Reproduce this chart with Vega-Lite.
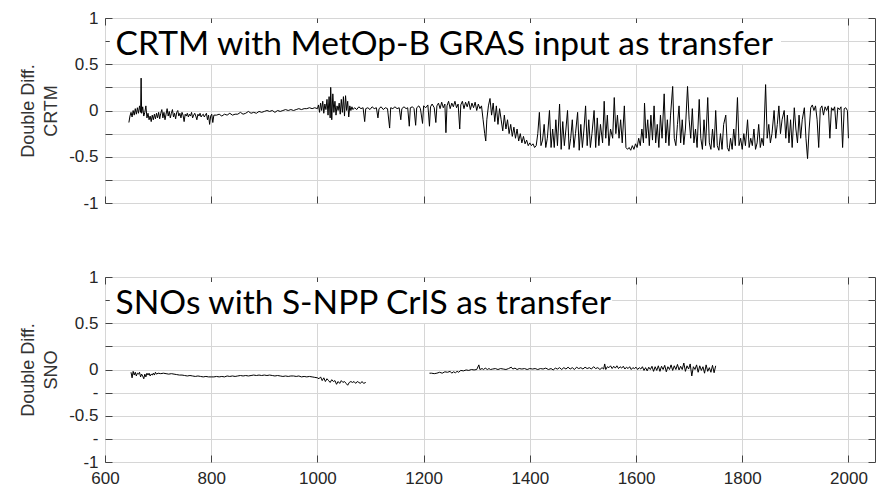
{
"$schema": "https://vega.github.io/schema/vega-lite/v6.json",
"background": "white",
"padding": {"left": 19, "top": 8, "right": 5, "bottom": 0},
"spacing": 74,
"bounds": "flush",
"datasets": {
"crtm": [
{"x":645,"y":-0.13},{"x":647,"y":-0.06},{"x":649,"y":-0.02},{"x":651,"y":-0.07},{"x":653,"y":0.0},{"x":655,"y":-0.05},{"x":657,"y":0.02},{"x":659,"y":-0.04},{"x":661,"y":0.03},{"x":663,"y":-0.03},{"x":665,"y":0.05},{"x":667,"y":-0.02},{"x":668,"y":0.35},{"x":669,"y":-0.03},{"x":671,"y":0.04},{"x":673,"y":-0.06},{"x":675,"y":-0.02},{"x":677,"y":0.05},{"x":679,"y":-0.08},{"x":681,"y":-0.03},{"x":683,"y":-0.1},{"x":685,"y":-0.06},{"x":687,"y":-0.12},{"x":689,"y":-0.05},{"x":691,"y":-0.1},{"x":693,"y":-0.04},{"x":695,"y":-0.09},{"x":697,"y":-0.03},{"x":699,"y":-0.08},
{"x":701,"y":-0.02},{"x":703,"y":-0.09},{"x":705,"y":-0.03},{"x":707,"y":0.01},{"x":709,"y":-0.08},{"x":711,"y":-0.02},{"x":713,"y":-0.1},{"x":715,"y":-0.04},{"x":717,"y":0.02},{"x":719,"y":-0.06},{"x":721,"y":-0.01},{"x":723,"y":-0.08},{"x":725,"y":-0.03},{"x":727,"y":0.01},{"x":729,"y":-0.07},{"x":731,"y":-0.03},{"x":733,"y":-0.09},{"x":735,"y":-0.02},{"x":737,"y":0.0},{"x":739,"y":-0.06},{"x":741,"y":-0.03},{"x":743,"y":-0.08},{"x":745,"y":-0.02},{"x":747,"y":-0.05},{"x":749,"y":-0.12},{"x":751,"y":-0.04},{"x":753,"y":-0.06},{"x":755,"y":-0.03},{"x":757,"y":-0.07},{"x":759,"y":-0.04},{"x":761,"y":-0.06},{"x":763,"y":-0.02},{"x":765,"y":-0.08},{"x":767,"y":-0.05},{"x":769,"y":-0.03},{"x":771,"y":-0.06},{"x":773,"y":-0.1},{"x":775,"y":-0.04},{"x":777,"y":-0.06},{"x":779,"y":-0.03},{"x":781,"y":-0.07},{"x":783,"y":-0.05},{"x":785,"y":-0.04},{"x":787,"y":-0.07},{"x":789,"y":-0.05},{"x":791,"y":-0.03},{"x":793,"y":-0.1},{"x":795,"y":-0.05},{"x":797,"y":-0.15},{"x":799,"y":-0.06},{"x":801,"y":-0.04},{"x":803,"y":-0.13},{"x":805,"y":-0.05},
{"x":810,"y":-0.05},{"x":815,"y":-0.04},{"x":820,"y":-0.06},{"x":825,"y":-0.04},{"x":830,"y":-0.05},{"x":835,"y":-0.03},{"x":840,"y":-0.05},{"x":845,"y":-0.04},{"x":850,"y":-0.04},{"x":855,"y":-0.02},{"x":860,"y":-0.04},{"x":865,"y":-0.03},{"x":870,"y":-0.01},{"x":875,"y":-0.03},{"x":880,"y":-0.02},{"x":885,"y":-0.03},{"x":890,"y":-0.01},{"x":895,"y":-0.02},{"x":900,"y":-0.01},{"x":905,"y":0.0},{"x":910,"y":-0.01},{"x":915,"y":0.0},{"x":920,"y":-0.02},{"x":925,"y":0.0},{"x":930,"y":-0.01},{"x":935,"y":0.0},{"x":940,"y":0.01},{"x":945,"y":0.0},{"x":950,"y":0.01},{"x":955,"y":0.0},{"x":960,"y":0.01},{"x":965,"y":0.02},{"x":970,"y":0.01},{"x":975,"y":0.02},{"x":980,"y":0.02},{"x":985,"y":0.03},{"x":990,"y":0.02},{"x":995,"y":0.03},
{"x":1000,"y":0.02},{"x":1002,"y":0.06},{"x":1004,"y":-0.02},{"x":1006,"y":0.08},{"x":1008,"y":0.0},{"x":1010,"y":0.1},{"x":1012,"y":-0.03},{"x":1014,"y":0.07},{"x":1016,"y":0.01},{"x":1018,"y":0.12},{"x":1020,"y":-0.05},{"x":1022,"y":0.15},{"x":1024,"y":-0.08},{"x":1025,"y":0.25},{"x":1027,"y":-0.1},{"x":1029,"y":0.18},{"x":1031,"y":-0.02},{"x":1033,"y":0.1},{"x":1035,"y":-0.05},{"x":1037,"y":0.05},{"x":1039,"y":0.0},{"x":1041,"y":0.08},{"x":1043,"y":-0.04},{"x":1045,"y":0.12},{"x":1047,"y":-0.02},{"x":1049,"y":0.15},{"x":1051,"y":-0.06},{"x":1053,"y":0.16},{"x":1055,"y":0.0},{"x":1057,"y":0.1},{"x":1059,"y":-0.07},{"x":1061,"y":0.05},{"x":1063,"y":0.0},{"x":1065,"y":0.04},{"x":1067,"y":0.01},
{"x":1070,"y":0.03},{"x":1074,"y":0.01},{"x":1078,"y":0.04},{"x":1082,"y":0.02},{"x":1086,"y":0.03},{"x":1089,"y":-0.12},{"x":1091,"y":0.02},{"x":1095,"y":0.03},{"x":1099,"y":0.01},{"x":1103,"y":0.04},{"x":1107,"y":0.02},{"x":1111,"y":0.03},{"x":1114,"y":-0.08},{"x":1116,"y":0.02},{"x":1120,"y":0.04},{"x":1124,"y":0.01},{"x":1128,"y":0.03},{"x":1132,"y":0.02},{"x":1136,"y":-0.19},{"x":1138,"y":0.03},{"x":1142,"y":0.02},{"x":1146,"y":0.04},{"x":1150,"y":0.02},{"x":1154,"y":0.03},{"x":1157,"y":-0.1},{"x":1159,"y":0.02},{"x":1163,"y":0.04},{"x":1167,"y":0.02},{"x":1170,"y":0.03},{"x":1173,"y":-0.17},{"x":1175,"y":0.03},{"x":1179,"y":0.04},{"x":1182,"y":0.02},{"x":1185,"y":-0.16},{"x":1187,"y":0.03},{"x":1191,"y":0.05},{"x":1194,"y":0.02},{"x":1198,"y":-0.14},{"x":1200,"y":0.05},
{"x":1204,"y":0.03},{"x":1208,"y":0.06},{"x":1211,"y":-0.17},{"x":1213,"y":0.04},{"x":1216,"y":0.07},{"x":1220,"y":0.03},{"x":1223,"y":-0.13},{"x":1225,"y":0.05},{"x":1228,"y":0.08},{"x":1231,"y":0.02},{"x":1234,"y":0.09},{"x":1237,"y":0.03},{"x":1240,"y":0.07},{"x":1242,"y":-0.24},{"x":1244,"y":0.05},{"x":1247,"y":0.1},{"x":1250,"y":0.02},{"x":1253,"y":0.08},{"x":1256,"y":0.04},{"x":1259,"y":0.1},{"x":1262,"y":0.03},{"x":1265,"y":0.07},{"x":1268,"y":-0.2},{"x":1270,"y":0.06},{"x":1273,"y":0.1},{"x":1276,"y":0.02},{"x":1279,"y":0.09},{"x":1282,"y":0.04},{"x":1285,"y":0.1},{"x":1288,"y":0.01},{"x":1291,"y":0.08},{"x":1294,"y":0.03},{"x":1297,"y":0.09},{"x":1300,"y":0.0},{"x":1303,"y":0.07},{"x":1306,"y":0.02},{"x":1309,"y":0.05},
{"x":1312,"y":-0.1},{"x":1315,"y":-0.25},{"x":1317,"y":-0.33},{"x":1319,"y":-0.1},{"x":1322,"y":0.05},{"x":1325,"y":0.13},{"x":1328,"y":-0.05},{"x":1331,"y":0.08},{"x":1334,"y":-0.12},{"x":1337,"y":0.05},{"x":1340,"y":-0.15},{"x":1343,"y":0.02},{"x":1346,"y":-0.1},{"x":1349,"y":-0.22},{"x":1352,"y":-0.05},{"x":1355,"y":-0.2},{"x":1358,"y":-0.1},{"x":1361,"y":-0.25},{"x":1364,"y":-0.15},{"x":1367,"y":-0.28},{"x":1370,"y":-0.18},{"x":1373,"y":-0.3},{"x":1376,"y":-0.2},{"x":1379,"y":-0.33},{"x":1382,"y":-0.25},{"x":1385,"y":-0.35},{"x":1388,"y":-0.28},{"x":1391,"y":-0.36},{"x":1394,"y":-0.32},{"x":1397,"y":-0.38},{"x":1400,"y":-0.35},{"x":1403,"y":-0.38},{"x":1406,"y":-0.36},{"x":1409,"y":-0.4},
{"x":1412,"y":-0.38},{"x":1415,"y":-0.25},{"x":1418,"y":-0.02},{"x":1421,"y":-0.38},{"x":1424,"y":-0.32},{"x":1427,"y":-0.15},{"x":1430,"y":-0.4},{"x":1433,"y":-0.3},{"x":1437,"y":0.0},{"x":1440,"y":-0.4},{"x":1443,"y":-0.2},{"x":1446,"y":-0.4},{"x":1449,"y":-0.1},{"x":1452,"y":-0.38},{"x":1456,"y":0.07},{"x":1459,"y":-0.42},{"x":1462,"y":-0.12},{"x":1465,"y":-0.38},{"x":1468,"y":-0.2},{"x":1471,"y":0.0},{"x":1474,"y":-0.42},{"x":1477,"y":-0.3},{"x":1480,"y":-0.1},{"x":1483,"y":-0.4},{"x":1486,"y":-0.25},{"x":1490,"y":-0.02},{"x":1493,"y":-0.43},{"x":1496,"y":-0.15},{"x":1499,"y":-0.4},{"x":1502,"y":-0.2},{"x":1505,"y":0.05},{"x":1508,"y":-0.38},{"x":1511,"y":-0.1},{"x":1514,"y":-0.4},{"x":1517,"y":-0.25},{"x":1521,"y":0.0},{"x":1524,"y":-0.4},{"x":1527,"y":-0.08},{"x":1530,"y":-0.38},{"x":1533,"y":-0.15},{"x":1537,"y":-0.35},{"x":1540,"y":0.1},{"x":1543,"y":-0.3},{"x":1546,"y":-0.05},{"x":1549,"y":-0.38},{"x":1552,"y":-0.2},{"x":1556,"y":-0.3},{"x":1559,"y":0.14},{"x":1562,"y":-0.25},{"x":1565,"y":-0.05},{"x":1568,"y":-0.3},{"x":1571,"y":-0.1},{"x":1574,"y":-0.35},{"x":1578,"y":0.05},{"x":1581,"y":-0.4},{"x":1584,"y":-0.42},{"x":1587,"y":-0.4},{"x":1590,"y":-0.43},{"x":1593,"y":-0.38},{"x":1596,"y":-0.42},{"x":1599,"y":-0.36},{"x":1602,"y":-0.4},
{"x":1605,"y":-0.3},{"x":1608,"y":-0.38},{"x":1611,"y":-0.2},{"x":1614,"y":-0.35},{"x":1616,"y":0.08},{"x":1619,"y":-0.3},{"x":1622,"y":-0.1},{"x":1625,"y":-0.38},{"x":1628,"y":-0.05},{"x":1631,"y":-0.32},{"x":1634,"y":0.05},{"x":1637,"y":-0.35},{"x":1640,"y":-0.15},{"x":1643,"y":-0.4},{"x":1646,"y":-0.05},{"x":1649,"y":-0.3},{"x":1653,"y":0.18},{"x":1656,"y":-0.35},{"x":1659,"y":-0.1},{"x":1662,"y":-0.38},{"x":1665,"y":-0.05},{"x":1669,"y":0.26},{"x":1672,"y":-0.3},{"x":1675,"y":-0.38},{"x":1678,"y":-0.15},{"x":1681,"y":0.05},{"x":1684,"y":-0.35},{"x":1687,"y":-0.1},{"x":1690,"y":-0.37},{"x":1693,"y":-0.2},{"x":1697,"y":0.26},{"x":1700,"y":-0.1},{"x":1703,"y":-0.3},{"x":1706,"y":0.02},{"x":1709,"y":-0.35},{"x":1712,"y":-0.2},{"x":1715,"y":-0.4},{"x":1719,"y":0.12},{"x":1722,"y":-0.3},{"x":1725,"y":-0.42},{"x":1728,"y":-0.1},{"x":1731,"y":-0.38},{"x":1735,"y":0.14},{"x":1738,"y":-0.35},{"x":1741,"y":-0.42},{"x":1744,"y":-0.2},{"x":1747,"y":-0.4},{"x":1750,"y":0.0},{"x":1753,"y":-0.38},{"x":1756,"y":-0.43},{"x":1759,"y":-0.25},{"x":1762,"y":-0.42},{"x":1765,"y":-0.15},{"x":1769,"y":-0.05},{"x":1772,"y":-0.4},{"x":1775,"y":-0.44},{"x":1778,"y":-0.3},{"x":1781,"y":-0.42},{"x":1784,"y":-0.2},{"x":1787,"y":-0.38},{"x":1791,"y":0.14},{"x":1794,"y":-0.38},{"x":1797,"y":-0.3},{"x":1800,"y":-0.42},{"x":1803,"y":-0.25},{"x":1806,"y":-0.38},{"x":1810,"y":-0.1},{"x":1813,"y":-0.4},{"x":1816,"y":-0.3},{"x":1819,"y":-0.38},{"x":1822,"y":-0.2},{"x":1825,"y":-0.42},{"x":1828,"y":-0.35},{"x":1831,"y":-0.15},{"x":1834,"y":-0.4},{"x":1837,"y":-0.3},{"x":1840,"y":-0.38},{"x":1844,"y":0.28},{"x":1847,"y":-0.3},{"x":1850,"y":-0.15},{"x":1853,"y":-0.35},{"x":1856,"y":-0.25},{"x":1860,"y":0.0},{"x":1863,"y":-0.3},{"x":1866,"y":-0.15},{"x":1869,"y":0.05},{"x":1872,"y":-0.25},{"x":1875,"y":-0.1},{"x":1879,"y":0.0},{"x":1882,"y":-0.3},{"x":1885,"y":-0.05},{"x":1888,"y":-0.35},{"x":1891,"y":-0.1},{"x":1894,"y":-0.4},{"x":1898,"y":0.03},{"x":1901,"y":-0.2},{"x":1904,"y":-0.35},{"x":1907,"y":-0.05},{"x":1910,"y":-0.3},{"x":1913,"y":-0.1},{"x":1917,"y":0.03},{"x":1920,"y":-0.3},{"x":1923,"y":-0.52},{"x":1926,"y":-0.2},{"x":1929,"y":0.03},{"x":1932,"y":0.06},{"x":1935,"y":0.0},{"x":1938,"y":0.05},{"x":1941,"y":-0.1},{"x":1944,"y":-0.4},{"x":1947,"y":0.02},{"x":1950,"y":0.05},{"x":1953,"y":-0.05},{"x":1956,"y":0.04},{"x":1959,"y":0.0},{"x":1962,"y":0.05},{"x":1965,"y":-0.3},{"x":1968,"y":0.03},{"x":1971,"y":0.0},{"x":1974,"y":0.04},{"x":1977,"y":-0.2},{"x":1980,"y":0.03},{"x":1983,"y":0.01},{"x":1986,"y":0.04},{"x":1989,"y":-0.4},{"x":1992,"y":0.02},{"x":1995,"y":0.03},{"x":1998,"y":0.0},{"x":2000,"y":-0.3}
],
"sno": [
{"s":1,"x":649,"y":-0.03},{"s":1,"x":651,"y":-0.09},{"s":1,"x":653,"y":-0.02},{"s":1,"x":655,"y":-0.06},{"s":1,"x":657,"y":-0.03},{"s":1,"x":659,"y":-0.07},{"s":1,"x":661,"y":-0.04},{"s":1,"x":663,"y":-0.05},{"s":1,"x":665,"y":-0.03},{"s":1,"x":667,"y":-0.08},{"s":1,"x":669,"y":-0.05},{"s":1,"x":671,"y":-0.07},{"s":1,"x":673,"y":-0.1},{"s":1,"x":675,"y":-0.05},{"s":1,"x":677,"y":-0.08},{"s":1,"x":679,"y":-0.04},{"s":1,"x":681,"y":-0.06},{"s":1,"x":683,"y":-0.04},{"s":1,"x":685,"y":-0.07},{"s":1,"x":687,"y":-0.05},{"s":1,"x":689,"y":-0.06},{"s":1,"x":691,"y":-0.04},{"s":1,"x":693,"y":-0.06},{"s":1,"x":695,"y":-0.03},{"s":1,"x":697,"y":-0.05},{"s":1,"x":700,"y":-0.04},{"s":1,"x":705,"y":-0.045},{"s":1,"x":710,"y":-0.04},{"s":1,"x":715,"y":-0.045},{"s":1,"x":720,"y":-0.05},{"s":1,"x":725,"y":-0.045},{"s":1,"x":730,"y":-0.05},{"s":1,"x":735,"y":-0.055},{"s":1,"x":740,"y":-0.06},{"s":1,"x":745,"y":-0.06},{"s":1,"x":750,"y":-0.065},{"s":1,"x":755,"y":-0.07},{"s":1,"x":760,"y":-0.065},{"s":1,"x":765,"y":-0.07},{"s":1,"x":770,"y":-0.075},{"s":1,"x":775,"y":-0.07},{"s":1,"x":780,"y":-0.075},{"s":1,"x":785,"y":-0.08},{"s":1,"x":790,"y":-0.075},{"s":1,"x":795,"y":-0.08},{"s":1,"x":800,"y":-0.08},{"s":1,"x":805,"y":-0.08},{"s":1,"x":810,"y":-0.075},{"s":1,"x":815,"y":-0.08},{"s":1,"x":820,"y":-0.075},{"s":1,"x":825,"y":-0.08},{"s":1,"x":830,"y":-0.07},{"s":1,"x":835,"y":-0.075},{"s":1,"x":840,"y":-0.07},{"s":1,"x":845,"y":-0.075},{"s":1,"x":850,"y":-0.07},{"s":1,"x":855,"y":-0.065},{"s":1,"x":860,"y":-0.07},{"s":1,"x":865,"y":-0.065},{"s":1,"x":870,"y":-0.07},{"s":1,"x":875,"y":-0.065},{"s":1,"x":880,"y":-0.06},{"s":1,"x":885,"y":-0.065},{"s":1,"x":890,"y":-0.06},{"s":1,"x":895,"y":-0.065},{"s":1,"x":900,"y":-0.06},{"s":1,"x":905,"y":-0.065},{"s":1,"x":910,"y":-0.06},{"s":1,"x":915,"y":-0.065},{"s":1,"x":920,"y":-0.07},{"s":1,"x":925,"y":-0.065},{"s":1,"x":930,"y":-0.07},{"s":1,"x":935,"y":-0.075},{"s":1,"x":940,"y":-0.07},{"s":1,"x":945,"y":-0.075},{"s":1,"x":950,"y":-0.07},{"s":1,"x":955,"y":-0.07},{"s":1,"x":960,"y":-0.075},{"s":1,"x":965,"y":-0.07},{"s":1,"x":970,"y":-0.08},{"s":1,"x":975,"y":-0.075},{"s":1,"x":980,"y":-0.08},{"s":1,"x":985,"y":-0.075},{"s":1,"x":990,"y":-0.08},{"s":1,"x":995,"y":-0.085},{"s":1,"x":1000,"y":-0.09},{"s":1,"x":1003,"y":-0.1},{"s":1,"x":1006,"y":-0.08},{"s":1,"x":1009,"y":-0.12},{"s":1,"x":1012,"y":-0.09},{"s":1,"x":1015,"y":-0.13},{"s":1,"x":1018,"y":-0.1},{"s":1,"x":1021,"y":-0.12},{"s":1,"x":1024,"y":-0.14},{"s":1,"x":1027,"y":-0.11},{"s":1,"x":1030,"y":-0.13},{"s":1,"x":1033,"y":-0.12},{"s":1,"x":1036,"y":-0.16},{"s":1,"x":1039,"y":-0.13},{"s":1,"x":1042,"y":-0.15},{"s":1,"x":1045,"y":-0.12},{"s":1,"x":1048,"y":-0.14},{"s":1,"x":1051,"y":-0.13},{"s":1,"x":1054,"y":-0.15},{"s":1,"x":1057,"y":-0.17},{"s":1,"x":1060,"y":-0.14},{"s":1,"x":1063,"y":-0.13},{"s":1,"x":1066,"y":-0.14},{"s":1,"x":1069,"y":-0.13},{"s":1,"x":1072,"y":-0.15},{"s":1,"x":1075,"y":-0.13},{"s":1,"x":1078,"y":-0.14},{"s":1,"x":1081,"y":-0.15},{"s":1,"x":1084,"y":-0.13},{"s":1,"x":1087,"y":-0.15},{"s":1,"x":1091,"y":-0.14},
{"s":2,"x":1211,"y":-0.04},{"s":2,"x":1215,"y":-0.04},{"s":2,"x":1220,"y":-0.045},{"s":2,"x":1225,"y":-0.04},{"s":2,"x":1230,"y":-0.03},{"s":2,"x":1235,"y":-0.04},{"s":2,"x":1240,"y":-0.025},{"s":2,"x":1245,"y":-0.03},{"s":2,"x":1250,"y":-0.02},{"s":2,"x":1253,"y":-0.04},{"s":2,"x":1256,"y":-0.025},{"s":2,"x":1260,"y":-0.035},{"s":2,"x":1263,"y":-0.02},{"s":2,"x":1266,"y":-0.03},{"s":2,"x":1270,"y":-0.01},{"s":2,"x":1275,"y":-0.015},{"s":2,"x":1280,"y":-0.005},{"s":2,"x":1285,"y":-0.01},{"s":2,"x":1290,"y":0.0},{"s":2,"x":1295,"y":-0.005},{"s":2,"x":1300,"y":0.0},{"s":2,"x":1304,"y":0.05},{"s":2,"x":1306,"y":0.0},{"s":2,"x":1310,"y":0.01},{"s":2,"x":1313,"y":0.0},{"s":2,"x":1316,"y":0.015},{"s":2,"x":1320,"y":0.0},{"s":2,"x":1323,"y":0.01},{"s":2,"x":1326,"y":0.0},{"s":2,"x":1330,"y":0.005},{"s":2,"x":1335,"y":0.01},{"s":2,"x":1340,"y":0.0},{"s":2,"x":1345,"y":0.01},{"s":2,"x":1350,"y":0.005},{"s":2,"x":1355,"y":0.0},{"s":2,"x":1360,"y":0.01},{"s":2,"x":1365,"y":0.025},{"s":2,"x":1368,"y":0.005},{"s":2,"x":1372,"y":0.015},{"s":2,"x":1376,"y":0.0},{"s":2,"x":1380,"y":0.01},{"s":2,"x":1385,"y":0.005},{"s":2,"x":1390,"y":0.01},{"s":2,"x":1395,"y":0.0},{"s":2,"x":1400,"y":0.01},{"s":2,"x":1405,"y":0.005},{"s":2,"x":1410,"y":0.01},{"s":2,"x":1415,"y":0.0},{"s":2,"x":1420,"y":0.01},{"s":2,"x":1425,"y":0.005},{"s":2,"x":1430,"y":0.015},{"s":2,"x":1435,"y":0.0},{"s":2,"x":1440,"y":0.01},{"s":2,"x":1444,"y":-0.005},{"s":2,"x":1448,"y":0.015},{"s":2,"x":1452,"y":0.005},{"s":2,"x":1456,"y":0.02},{"s":2,"x":1460,"y":0.0},{"s":2,"x":1464,"y":0.02},{"s":2,"x":1468,"y":0.005},{"s":2,"x":1472,"y":0.025},{"s":2,"x":1476,"y":0.005},{"s":2,"x":1480,"y":0.02},{"s":2,"x":1484,"y":0.0},{"s":2,"x":1488,"y":0.025},{"s":2,"x":1492,"y":0.01},{"s":2,"x":1496,"y":0.02},{"s":2,"x":1500,"y":0.005},{"s":2,"x":1504,"y":0.025},{"s":2,"x":1508,"y":0.01},{"s":2,"x":1512,"y":0.02},{"s":2,"x":1516,"y":0.005},{"s":2,"x":1520,"y":0.03},{"s":2,"x":1524,"y":0.01},{"s":2,"x":1528,"y":0.02},{"s":2,"x":1532,"y":0.0},{"s":2,"x":1536,"y":0.02},{"s":2,"x":1539,"y":0.005},{"s":2,"x":1541,"y":0.06},{"s":2,"x":1543,"y":0.0},{"s":2,"x":1546,"y":0.03},{"s":2,"x":1549,"y":0.02},{"s":2,"x":1552,"y":0.04},{"s":2,"x":1555,"y":0.01},{"s":2,"x":1558,"y":0.035},{"s":2,"x":1561,"y":0.015},{"s":2,"x":1564,"y":0.04},{"s":2,"x":1567,"y":0.01},{"s":2,"x":1570,"y":0.03},{"s":2,"x":1573,"y":0.015},{"s":2,"x":1576,"y":0.035},{"s":2,"x":1579,"y":0.005},{"s":2,"x":1582,"y":0.025},{"s":2,"x":1585,"y":0.01},{"s":2,"x":1588,"y":0.03},{"s":2,"x":1591,"y":0.0},{"s":2,"x":1594,"y":0.02},{"s":2,"x":1597,"y":0.01},{"s":2,"x":1600,"y":0.025},{"s":2,"x":1603,"y":0.0},{"s":2,"x":1606,"y":0.02},{"s":2,"x":1609,"y":0.005},{"s":2,"x":1612,"y":0.03},{"s":2,"x":1615,"y":-0.01},{"s":2,"x":1618,"y":0.02},{"s":2,"x":1621,"y":-0.015},{"s":2,"x":1624,"y":0.025},{"s":2,"x":1627,"y":0.0},{"s":2,"x":1630,"y":0.035},{"s":2,"x":1633,"y":-0.02},{"s":2,"x":1636,"y":0.03},{"s":2,"x":1639,"y":-0.01},{"s":2,"x":1642,"y":0.04},{"s":2,"x":1645,"y":-0.02},{"s":2,"x":1648,"y":0.035},{"s":2,"x":1651,"y":0.0},{"s":2,"x":1654,"y":0.045},{"s":2,"x":1657,"y":-0.025},{"s":2,"x":1660,"y":0.03},{"s":2,"x":1663,"y":0.0},{"s":2,"x":1666,"y":0.05},{"s":2,"x":1669,"y":-0.01},{"s":2,"x":1672,"y":0.04},{"s":2,"x":1675,"y":0.0},{"s":2,"x":1678,"y":0.055},{"s":2,"x":1681,"y":-0.005},{"s":2,"x":1684,"y":0.035},{"s":2,"x":1687,"y":0.0},{"s":2,"x":1690,"y":0.07},{"s":2,"x":1693,"y":-0.02},{"s":2,"x":1696,"y":0.04},{"s":2,"x":1699,"y":0.005},{"s":2,"x":1702,"y":0.06},{"s":2,"x":1705,"y":-0.07},{"s":2,"x":1708,"y":0.03},{"s":2,"x":1711,"y":0.0},{"s":2,"x":1714,"y":0.05},{"s":2,"x":1717,"y":-0.03},{"s":2,"x":1720,"y":0.04},{"s":2,"x":1723,"y":-0.01},{"s":2,"x":1726,"y":0.03},{"s":2,"x":1729,"y":-0.04},{"s":2,"x":1732,"y":0.05},{"s":2,"x":1735,"y":-0.02},{"s":2,"x":1738,"y":0.02},{"s":2,"x":1741,"y":-0.03},{"s":2,"x":1744,"y":0.045},{"s":2,"x":1747,"y":-0.035},{"s":2,"x":1750,"y":0.04}
]
},
"vconcat": [
{
"width": 770, "height": 185,
"layer": [
{"data": {"name": "crtm"},
 "mark": {"type": "line", "color": "black", "strokeWidth": 1, "clip": true},
 "encoding": {
  "x": {"field": "x", "type": "quantitative", "scale": {"domain": [600, 2050], "nice": false, "zero": false},
        "axis": {"orient": "bottom", "values": [600,800,1000,1200,1400,1600,1800,2000], "labels": false, "labelFlush": false, "grid": true, "gridColor": "#d6d6d6", "gridOpacity": 1, "title": null}},
  "y": {"field": "y", "type": "quantitative", "scale": {"domain": [-1, 1], "nice": false, "zero": false},
        "axis": {"orient": "left", "values": [-1,-0.75,-0.5,-0.25,0,0.25,0.5,0.75,1], "grid": true, "gridColor": "#d6d6d6", "gridOpacity": 1, "title": ["Double Diff.", "CRTM"],
                 "labelExpr": "abs(datum.value % 0.5) < 0.001 ? toString(datum.value) : ''"}}
 }},
{"data": {"values": [{"x1": 609, "x2": 1873, "y1": 0.946, "y2": 0.503}]},
 "mark": {"type": "rect", "color": "white"},
 "encoding": {
  "x": {"field": "x1", "type": "quantitative", "scale": {"domain": [600, 2050], "nice": false, "zero": false},
        "axis": {"orient": "top", "values": [600,800,1000,1200,1400,1600,1800,2000], "labels": false, "grid": false, "title": null}},
  "x2": {"field": "x2"},
  "y": {"field": "y1", "type": "quantitative", "scale": {"domain": [-1, 1], "nice": false, "zero": false},
        "axis": {"orient": "right", "values": [-1,-0.75,-0.5,-0.25,0,0.25,0.5,0.75,1], "labels": false, "grid": false, "title": null}},
  "y2": {"field": "y2"}
 }},
{"data": {"values": [{"t": "CRTM with MetOp-B GRAS input as transfer", "x": 620, "y": 0.6}]},
 "mark": {"type": "text", "font": "Lato", "fontSize": 33.5, "align": "left", "baseline": "alphabetic", "color": "black"},
 "encoding": {
  "x": {"field": "x", "type": "quantitative", "scale": {"domain": [600, 2050], "nice": false, "zero": false}, "axis": null},
  "y": {"field": "y", "type": "quantitative", "scale": {"domain": [-1, 1], "nice": false, "zero": false}, "axis": null},
  "text": {"field": "t"}
 }}
]
},
{
"width": 770, "height": 185,
"layer": [
{"data": {"name": "sno"},
 "mark": {"type": "line", "color": "black", "strokeWidth": 1, "clip": true},
 "encoding": {
  "x": {"field": "x", "type": "quantitative", "scale": {"domain": [600, 2050], "nice": false, "zero": false},
        "axis": {"orient": "bottom", "values": [600,800,1000,1200,1400,1600,1800,2000], "format": "d", "labels": true, "labelFlush": false, "grid": true, "gridColor": "#d6d6d6", "gridOpacity": 1, "title": null}},
  "y": {"field": "y", "type": "quantitative", "scale": {"domain": [-1, 1], "nice": false, "zero": false},
        "axis": {"orient": "left", "values": [-1,-0.75,-0.5,-0.25,0,0.25,0.5,0.75,1], "grid": true, "gridColor": "#d6d6d6", "gridOpacity": 1, "title": ["Double Diff.", "SNO"],
                 "labelExpr": "abs(datum.value % 0.5) < 0.001 ? toString(datum.value) : (datum.value < 0 ? '-' : '')"}},
  "detail": {"field": "s", "type": "nominal"}
 }},
{"data": {"values": [{"x1": 609, "x2": 1555, "y1": 0.946, "y2": 0.503}]},
 "mark": {"type": "rect", "color": "white"},
 "encoding": {
  "x": {"field": "x1", "type": "quantitative", "scale": {"domain": [600, 2050], "nice": false, "zero": false},
        "axis": {"orient": "top", "values": [600,800,1000,1200,1400,1600,1800,2000], "labels": false, "grid": false, "title": null}},
  "x2": {"field": "x2"},
  "y": {"field": "y1", "type": "quantitative", "scale": {"domain": [-1, 1], "nice": false, "zero": false},
        "axis": {"orient": "right", "values": [-1,-0.75,-0.5,-0.25,0,0.25,0.5,0.75,1], "labels": false, "grid": false, "title": null}},
  "y2": {"field": "y2"}
 }},
{"data": {"values": [{"t": "SNOs with S-NPP CrIS as transfer", "x": 620, "y": 0.6}]},
 "mark": {"type": "text", "font": "Lato", "fontSize": 33.5, "align": "left", "baseline": "alphabetic", "color": "black"},
 "encoding": {
  "x": {"field": "x", "type": "quantitative", "scale": {"domain": [600, 2050], "nice": false, "zero": false}, "axis": null},
  "y": {"field": "y", "type": "quantitative", "scale": {"domain": [-1, 1], "nice": false, "zero": false}, "axis": null},
  "text": {"field": "t"}
 }}
]
}
],
"config": {
 "view": {"stroke": "#444444", "strokeWidth": 1},
 "axis": {"domain": false, "tickSize": -7, "tickColor": "#444444", "tickWidth": 1,
          "labelFont": "Liberation Sans", "labelFontSize": 17, "labelColor": "#262626",
          "titleFont": "Liberation Sans", "titleFontSize": 18, "titleFontWeight": "normal", "titleColor": "#333333"},
 "axisY": {"labelPadding": 14, "titlePadding": 8, "titleLineHeight": 23},
 "axisX": {"labelPadding": 15, "labelFlush": false}
}
}
